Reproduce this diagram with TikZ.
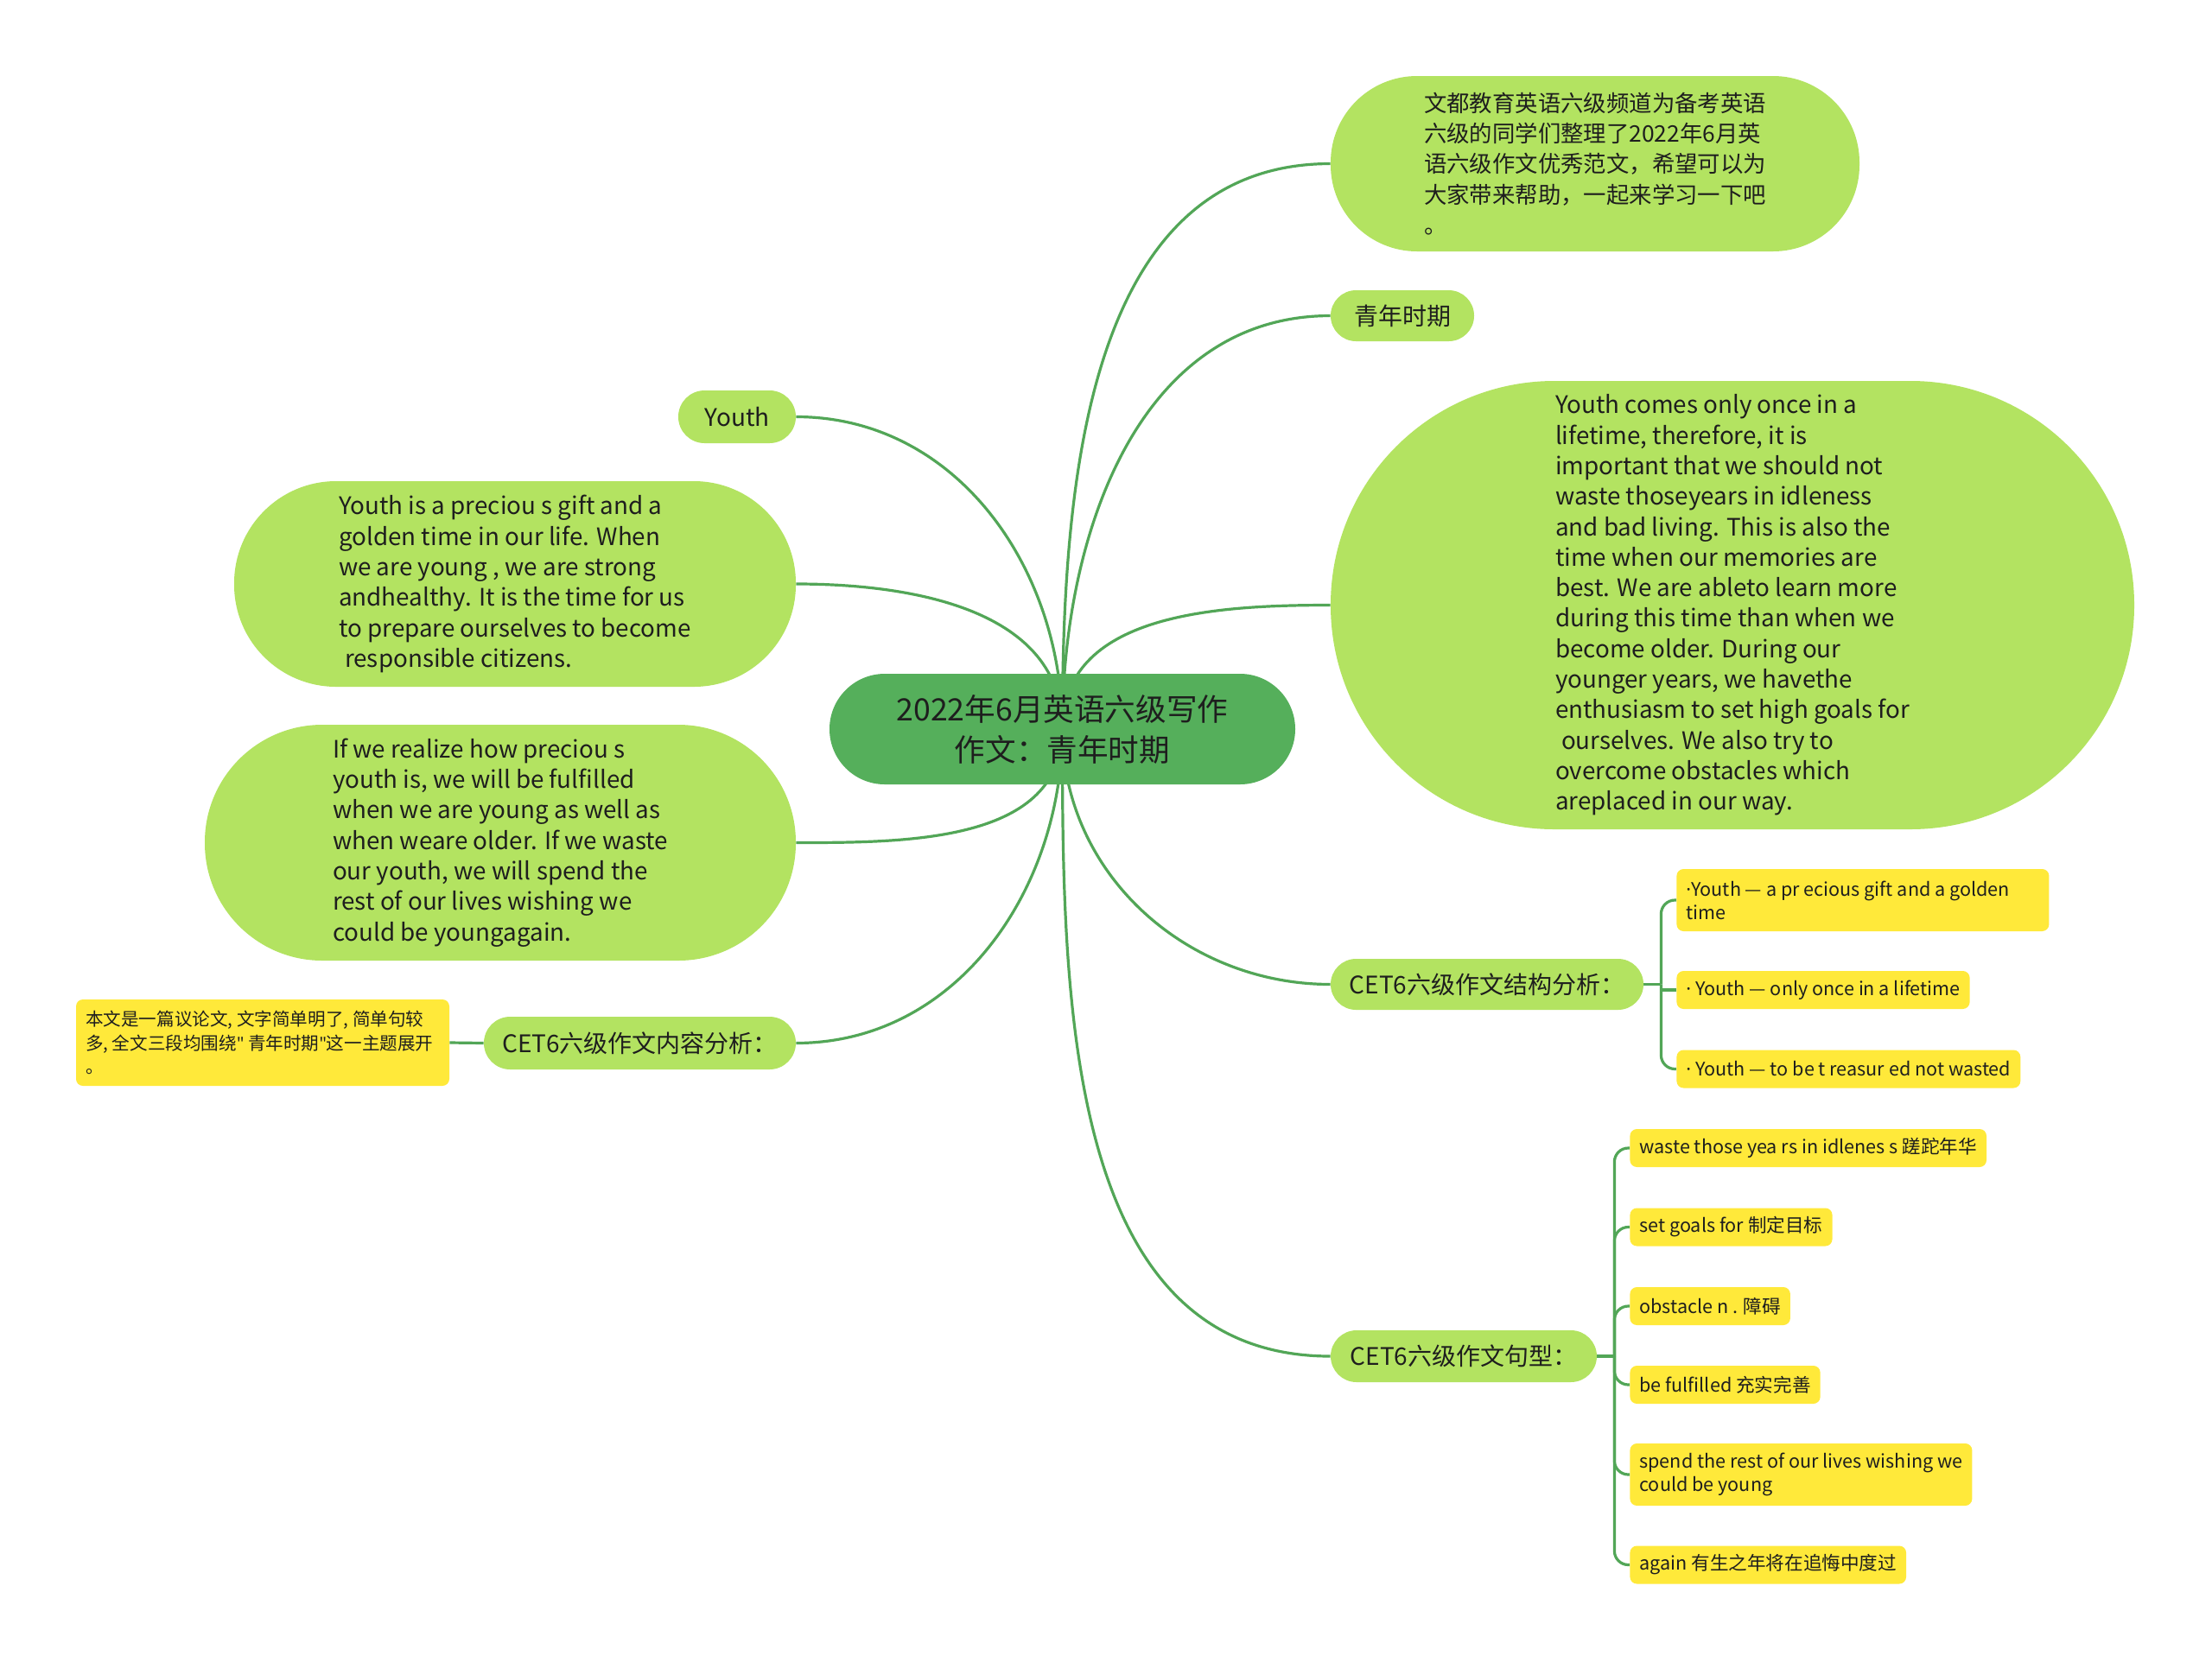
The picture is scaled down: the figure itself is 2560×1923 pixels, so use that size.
\documentclass[tikz,border=0pt]{standalone}
\usepackage{fontspec}
\setmainfont{Noto Sans CJK SC}
\newfontfamily\latinfont{Noto Sans}
\definecolor{lg}{HTML}{B3E361}
\definecolor{dg}{HTML}{55AF5B}
\definecolor{ln}{HTML}{52A657}
\definecolor{yl}{HTML}{FFE93A}
\definecolor{tx}{HTML}{1E1E1E}
\pgfdeclarelayer{bg}
\pgfsetlayers{bg,main}
\newcommand{\parafont}{\fontsize{13.9pt}{17.65pt}\selectfont}
\newcommand{\cjkparafont}{\fontsize{13.2pt}{17.7pt}\selectfont}
\newcommand{\labfont}{\fontsize{14pt}{17pt}\selectfont}
\newcommand{\smallfont}{\fontsize{10.8pt}{13.5pt}\selectfont}
\newcommand{\mdot}{{\latinfont ·}}
\newcommand{\sq}{{\latinfont "}}
\begin{document}
\begin{tikzpicture}[x=0.5pt,y=-0.5pt,
  rootbox/.style={fill=dg,text=tx,inner sep=0pt,align=center,font=\fontsize{17.8pt}{23.5pt}\selectfont},
  parabox/.style={fill=lg,text=tx,inner sep=0pt,align=left,font=\parafont},
  labbox/.style={fill=lg,text=tx,inner sep=0pt,align=left,font=\labfont},
  ybox/.style={fill=yl,text=tx,inner xsep=5.5pt,inner ysep=5pt,align=left,font=\smallfont,rounded corners=4pt,minimum height=22pt},
  conn/.style={draw=ln,line width=1.6pt}]
\useasboundingbox (0,0) rectangle (2560,1923);

% root
\node[rootbox,minimum width=269.5pt,minimum height=64pt,rounded corners=32pt] (root) at (1229.5,844) {2022年6月英语六级写作\\作文：青年时期};

% right side
\node[parabox,font=\cjkparafont,minimum width=306pt,minimum height=101.5pt,rounded corners=50pt] (intro) at (1846,189.5)
 {文都教育英语六级频道为备考英语\\六级的同学们整理了2022年6月英\\语六级作文优秀范文，希望可以为\\大家带来帮助，一起来学习一下吧\\。};
\node[labbox,minimum width=83pt,minimum height=29.5pt,rounded corners=14.7pt] (qn) at (1623,365.5) {青年时期};
\node[parabox,minimum width=465pt,minimum height=259.5pt,rounded corners=129.5pt] (big) at (2005,700.5)
 {Youth comes only once in a\\lifetime, therefore, it is\\important that we should not\\waste thoseyears in idleness\\and bad living. This is also the\\time when our memories are\\best. We are ableto learn more\\during this time than when we\\become older. During our\\younger years, we havethe\\enthusiasm to set high goals for\\\hspace*{0.25em}ourselves. We also try to\\overcome obstacles which\\areplaced in our way.};
\node[labbox,minimum width=181pt,minimum height=29.5pt,rounded corners=14.7pt] (s1) at (1721,1139.5) {CET6六级作文结构分析：};
\node[ybox,anchor=west,text width=204.5pt,align=flush left,minimum height=36pt] (s1a) at (1940,1042) {\mdot Youth — a pr ecious gift and a golden\\time};
\node[ybox,anchor=west] (s1b) at (1940,1146) {\mdot\ Youth — only once in a lifetime};
\node[ybox,anchor=west] (s1c) at (1940,1237.5) {\mdot\ Youth — to be t reasur ed not wasted};

\node[labbox,minimum width=154pt,minimum height=30pt,rounded corners=15pt] (s2) at (1694,1570) {CET6六级作文句型：};
\node[ybox,anchor=west] (w1) at (1886,1329) {waste those yea rs in idlenes s 蹉跎年华};
\node[ybox,anchor=west] (w2) at (1886,1420.5) {set goals for 制定目标};
\node[ybox,anchor=west] (w3) at (1886,1512) {obstacle n . 障碍};
\node[ybox,anchor=west] (w4) at (1886,1603) {be fulfilled 充实完善};
\node[ybox,anchor=west,minimum height=36pt] (w5) at (1886,1707) {spend the rest of our lives wishing we\\could be young};
\node[ybox,anchor=west] (w6) at (1886,1811.5) {again 有生之年将在追悔中度过};

% left side
\node[labbox,minimum width=68pt,minimum height=30.5pt,rounded corners=15.2pt] (youth) at (853,482.5) {Youth};
\node[parabox,minimum width=325pt,minimum height=119pt,rounded corners=59pt] (p1) at (596,676)
 {Youth is a preciou s gift and a\\golden time in our life. When\\we are young , we are strong\\andhealthy. It is the time for us\\to prepare ourselves to become\\\hspace*{0.25em}responsible citizens.};
\node[parabox,minimum width=342pt,minimum height=136.5pt,rounded corners=68pt] (p2) at (579,975.5)
 {If we realize how preciou s\\youth is, we will be fulfilled\\when we are young as well as\\when weare older. If we waste\hspace*{10pt}\\our youth, we will spend the\\rest of our lives wishing we\\could be youngagain.};
\node[labbox,minimum width=180.5pt,minimum height=30.5pt,rounded corners=15.2pt] (c3) at (740.5,1207.5) {CET6六级作文内容分析：};
\node[ybox,font=\fontsize{10.3pt}{13.9pt}\selectfont,align=flush left,minimum width=216pt,minimum height=50pt,text width=205pt] (lnote) at (304,1207) {本文是一篇议论文, 文字简单明了, 简单句较\\多, 全文三段均围绕\sq\ 青年时期\sq 这一主题展开\\。};

% connectors
\begin{pgfonlayer}{bg}
\fill[white] (0,0) rectangle (2560,1923);
\draw[conn] (root.center) to[out=90,in=180] (intro.west);
\draw[conn] (root.center) to[out=90,in=180] (qn.west);
\draw[conn] (root.center) to[out=90,in=180] (big.west);
\draw[conn] (root.center) to[out=-90,in=180] (s1.west);
\draw[conn] (root.center) to[out=-90,in=180] (s2.west);
\draw[conn] (root.center) to[out=90,in=0] (youth.east);
\draw[conn] (root.center) to[out=90,in=0] (p1.east);
\draw[conn] (root.center) to[out=-90,in=0] (p2.east);
\draw[conn] (root.center) to[out=-90,in=0] (c3.east);
\draw[conn] (c3.west) -- (lnote.east);

\coordinate (b1) at ([xshift=10pt]s1.east);
\draw[conn] (s1.east) -- (b1);
\draw[conn,rounded corners=8pt] (b1) |- (s1a.west);
\draw[conn] (b1) |- (s1b.west);
\draw[conn,rounded corners=8pt] (b1) |- (s1c.west);

\coordinate (b2) at ([xshift=10pt]s2.east);
\draw[conn] (s2.east) -- (b2);
\draw[conn,rounded corners=8pt] (b2) |- (w1.west);
\draw[conn,rounded corners=8pt] (b2) |- (w2.west);
\draw[conn,rounded corners=8pt] (b2) |- (w3.west);
\draw[conn,rounded corners=8pt] (b2) |- (w4.west);
\draw[conn,rounded corners=8pt] (b2) |- (w5.west);
\draw[conn,rounded corners=8pt] (b2) |- (w6.west);
\end{pgfonlayer}
\end{tikzpicture}
\end{document}
